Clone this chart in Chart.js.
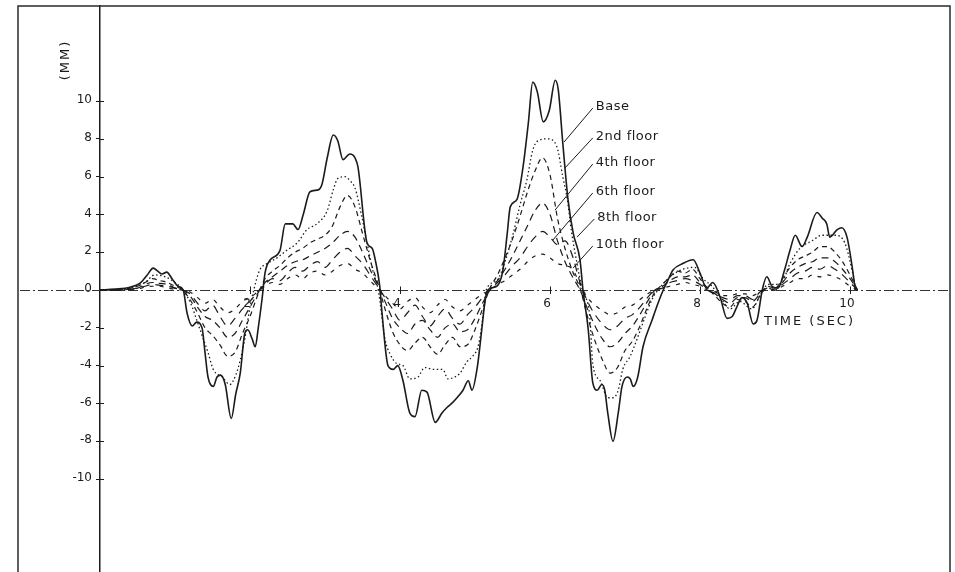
<!DOCTYPE html>
<html>
<head>
<meta charset="utf-8">
<script src="https://cdn.jsdelivr.net/npm/chart.js@4/dist/chart.umd.min.js"></script>
<style>
  html, body { margin: 0; padding: 0; background: #fff; }
  canvas { display: block; }
</style>
</head>
<body>
<canvas id="c" width="955" height="572"></canvas>
<script>
// Axis ticks and titles
const xTicks = [2, 4, 6, 8, 10];
const yTicks = [-10, -8, -6, -4, -2, 0, 2, 4, 6, 8, 10];
const xTitle = 'TIME (SEC)';
const yTitle = '(MM)';

// Base displacement (mm) against time (s)
const baseTime = [0, 0.2, 0.4, 0.53, 0.63, 0.71, 0.77, 0.83, 0.89, 0.96, 1.04, 1.11, 1.16, 1.23, 1.29, 1.36, 1.40, 1.44, 1.51, 1.56, 1.61, 1.67, 1.75, 1.81, 1.87, 1.93, 1.97, 2.03, 2.07, 2.11, 2.16, 2.20, 2.27, 2.40, 2.47, 2.57, 2.64, 2.71, 2.80, 2.91, 2.96, 3.03, 3.11, 3.17, 3.24, 3.33, 3.40, 3.44, 3.56, 3.63, 3.67, 3.73, 3.76, 3.84, 3.91, 3.97, 4.04, 4.13, 4.20, 4.29, 4.36, 4.47, 4.56, 4.63, 4.69, 4.76, 4.84, 4.91, 4.96, 5.03, 5.09, 5.13, 5.17, 5.29, 5.37, 5.43, 5.47, 5.56, 5.64, 5.71, 5.77, 5.83, 5.91, 5.99, 6.07, 6.11, 6.17, 6.24, 6.31, 6.40, 6.44, 6.51, 6.57, 6.63, 6.69, 6.73, 6.77, 6.84, 6.91, 6.96, 7.03, 7.07, 7.11, 7.17, 7.24, 7.36, 7.44, 7.51, 7.57, 7.64, 7.77, 7.91, 8.00, 8.09, 8.17, 8.27, 8.36, 8.43, 8.49, 8.56, 8.63, 8.71, 8.76, 8.83, 8.89, 8.96, 9.04, 9.13, 9.20, 9.27, 9.36, 9.43, 9.56, 9.63, 9.69, 9.73, 9.83, 9.89, 9.96, 10.03, 10.07];
const baseMm = [0, 0.05, 0.15, 0.35, 0.8, 1.16, 1.0, 0.85, 0.95, 0.6, 0.2, 0, -1.2, -1.9, -1.7, -2.0, -3.3, -4.6, -5.1, -4.6, -4.5, -5.0, -6.8, -5.5, -4.4, -2.3, -2.1, -2.6, -3.0, -2.0, -0.5, 0.9, 1.6, 2.1, 3.5, 3.5, 3.2, 4.0, 5.2, 5.3, 5.6, 7.0, 8.2, 7.9, 6.9, 7.2, 7.0, 6.5, 2.5, 2.2, 1.6, 0.2, -1.2, -4.0, -4.2, -4.0, -4.8, -6.5, -6.7, -5.3, -5.4, -7.0, -6.5, -6.2, -6.0, -5.7, -5.3, -4.8, -5.3, -4.1, -2.1, -0.7, 0, 0.2, 1.0, 3.0, 4.4, 4.8, 6.5, 8.8, 11.0, 10.5, 8.9, 9.5, 11.1, 10.6, 7.8, 4.8, 3.0, 1.6, 0, -2.1, -4.9, -5.3, -5.0, -5.3, -6.5, -8.0, -6.5, -5.1, -4.6, -4.7, -5.1, -4.6, -3.0, -1.6, -0.7, 0, 0.5, 1.06, 1.4, 1.6, 0.9, 0.1, 0.4, -0.4, -1.5, -1.4, -0.9, -0.4, -0.7, -1.8, -1.6, 0, 0.7, 0.2, 0.1, 1.1, 2.1, 2.9, 2.3, 2.8, 4.1, 3.8, 3.5, 2.8, 3.2, 3.3, 2.8, 1.2, 0];

// 2nd floor displacement (mm)
const floor2Time = [0, 0.2, 0.4, 0.6, 0.73, 0.87, 1.0, 1.11, 1.23, 1.29, 1.37, 1.44, 1.51, 1.63, 1.73, 1.81, 1.87, 1.93, 2.0, 2.05, 2.13, 2.23, 2.36, 2.49, 2.63, 2.76, 2.89, 3.03, 3.11, 3.17, 3.27, 3.33, 3.4, 3.49, 3.56, 3.64, 3.71, 3.8, 3.87, 3.96, 4.04, 4.13, 4.24, 4.33, 4.44, 4.57, 4.64, 4.73, 4.8, 4.89, 4.97, 5.04, 5.09, 5.15, 5.29, 5.4, 5.51, 5.6, 5.69, 5.77, 5.84, 5.97, 6.09, 6.17, 6.23, 6.29, 6.37, 6.43, 6.53, 6.57, 6.67, 6.77, 6.84, 6.91, 6.97, 7.07, 7.16, 7.27, 7.36, 7.44, 7.6, 7.77, 7.93, 8.04, 8.16, 8.29, 8.4, 8.53, 8.69, 8.8, 8.91, 9.07, 9.2, 9.33, 9.49, 9.63, 9.8, 9.93, 10.03, 10.08];
const floor2Mm = [0, 0.02, 0.1, 0.4, 0.8, 0.7, 0.4, 0, -0.9, -1.6, -2.5, -3.3, -4.2, -4.6, -5.0, -4.5, -3.7, -2.6, -0.9, 0, 1.06, 1.4, 1.7, 2.1, 2.5, 3.2, 3.5, 4.2, 5.3, 5.9, 6.0, 5.8, 5.4, 3.9, 2.5, 1.0, 0, -2.6, -3.4, -3.9, -4.0, -4.7, -4.6, -4.1, -4.2, -4.2, -4.7, -4.6, -4.4, -3.8, -3.5, -3.0, -1.9, 0, 0.5, 1.5, 3.0, 4.5, 5.8, 7.4, 7.9, 8.0, 7.6, 6.0, 4.8, 3.0, 1.2, 0, -1.4, -3.9, -4.8, -5.7, -5.7, -5.3, -4.2, -3.5, -2.6, -1.4, -0.5, 0, 0.7, 1.1, 1.2, 0.6, 0.2, -0.5, -1.0, -0.6, -1.0, -0.3, 0.3, 0.3, 1.4, 2.2, 2.6, 2.9, 2.9, 2.5, 1.0, 0];

// Upper floors share a 0.1 s sampling grid
const floorTime = Array.from({ length: 102 }, (_, i) => i / 10);
const floor4Mm = [0, 0, 0, 0.05, 0.1, 0.2, 0.4, 0.6, 0.5, 0.4, 0.2, 0, -0.5, -1.2, -2.0, -2.4, -2.9, -3.5, -3.3, -2.3, -1.4, -0.3, 0.6, 1.0, 1.3, 1.7, 2.0, 2.2, 2.5, 2.7, 2.9, 3.4, 4.4, 5.0, 4.4, 3.0, 1.6, 0.4, -1.0, -2.2, -2.9, -3.2, -2.8, -2.5, -3.0, -3.4, -2.9, -2.5, -3.0, -2.9, -2.1, -1.0, 0.1, 0.8, 1.7, 2.7, 3.9, 5.2, 6.3, 7.0, 6.1, 3.8, 2.2, 1.0, 0.1, -1.4, -2.7, -3.7, -4.4, -4.1, -3.2, -2.7, -1.9, -0.9, -0.1, 0.3, 0.7, 1.0, 0.9, 1.1, 0.6, 0.1, -0.3, -0.7, -0.9, -0.5, -0.6, -0.9, -0.3, 0.2, 0.1, 0.6, 1.2, 1.6, 1.8, 2.0, 2.3, 2.3, 2.0, 1.5, 0.8, 0];
const floor6Mm = [0, 0, 0, 0, 0.05, 0.1, 0.3, 0.4, 0.35, 0.3, 0.1, 0, -0.3, -0.9, -1.4, -1.6, -2.0, -2.5, -2.3, -1.6, -0.9, -0.2, 0.4, 0.7, 1.0, 1.3, 1.5, 1.6, 1.8, 2.0, 2.2, 2.5, 2.9, 3.1, 2.8, 2.0, 1.1, 0.3, -0.6, -1.5, -2.0, -2.3, -1.8, -1.6, -2.1, -2.5, -2.0, -1.8, -2.2, -2.1, -1.5, -0.7, 0, 0.5, 1.1, 1.8, 2.6, 3.4, 4.2, 4.6, 4.0, 2.6, 1.5, 0.7, 0, -1.0, -1.9, -2.6, -3.0, -2.8, -2.3, -1.9, -1.3, -0.6, 0, 0.2, 0.5, 0.7, 0.7, 0.8, 0.4, 0.1, -0.2, -0.5, -0.7, -0.4, -0.4, -0.6, -0.2, 0.1, 0.1, 0.4, 0.9, 1.2, 1.4, 1.5, 1.7, 1.7, 1.5, 1.1, 0.6, 0];
const floor8Mm = [0, 0, 0, 0, 0.05, 0.1, 0.2, 0.3, 0.25, 0.2, 0.1, 0, -0.2, -0.7, -1.1, -0.8, -1.4, -1.9, -1.5, -1.0, -0.6, -0.1, 0.3, 0.6, 0.5, 0.9, 1.2, 1.0, 1.3, 1.5, 1.2, 1.6, 2.0, 2.2, 1.8, 1.4, 0.8, 0.2, -0.4, -1.0, -1.6, -1.2, -0.8, -1.4, -1.9, -1.4, -1.0, -1.5, -1.8, -1.3, -0.9, -0.4, 0, 0.4, 0.8, 1.3, 1.7, 2.3, 2.8, 3.1, 2.8, 2.4, 2.6, 1.8, 0.4, -0.6, -1.3, -1.8, -2.1, -1.9, -1.5, -1.3, -0.9, -0.4, 0, 0.1, 0.4, 0.5, 0.6, 0.5, 0.3, 0, -0.2, -0.4, -0.5, -0.3, -0.3, -0.5, -0.1, 0.1, 0, 0.3, 0.6, 0.9, 1.0, 1.2, 1.1, 1.3, 1.1, 0.8, 0.4, 0];
const floor10Mm = [0, 0, 0, 0, 0, 0.05, 0.15, 0.2, 0.2, 0.1, 0.05, 0, -0.1, -0.4, -0.7, -0.5, -0.9, -1.2, -1.0, -0.6, -0.4, -0.1, 0.2, 0.4, 0.3, 0.6, 0.8, 0.6, 0.9, 1.0, 0.8, 1.0, 1.3, 1.4, 1.1, 0.9, 0.5, 0.1, -0.3, -0.7, -1.0, -0.6, -0.4, -0.9, -1.2, -0.8, -0.5, -0.9, -1.1, -0.8, -0.5, -0.2, 0, 0.3, 0.5, 0.8, 1.1, 1.5, 1.8, 1.9, 1.7, 1.4, 1.3, 1.1, 0.3, -0.4, -0.8, -1.1, -1.3, -1.2, -0.9, -0.8, -0.5, -0.2, 0, 0.1, 0.2, 0.3, 0.4, 0.3, 0.2, 0, -0.1, -0.3, -0.3, -0.2, -0.2, -0.3, -0.1, 0, 0, 0.2, 0.4, 0.6, 0.6, 0.8, 0.7, 0.8, 0.7, 0.5, 0.2, 0];

// Curve labels: text anchor and leader end, both in (s, mm)
const callouts = [
  { text: 'Base',       at: [6.61, 9.68], to: [6.187, 7.83] },
  { text: '2nd floor',  at: [6.61, 8.10], to: [6.20, 6.46] },
  { text: '4th floor',  at: [6.61, 6.72], to: [6.067, 4.23] },
  { text: '6th floor',  at: [6.61, 5.19], to: [6.04, 2.65] },
  { text: '8th floor',  at: [6.63, 3.81], to: [6.36, 2.80] },
  { text: '10th floor', at: [6.61, 2.38], to: [6.307, 1.16] }
];

const ink = '#1b1b1b';
const frameLeft = 18;
const zeroDash = [10, 3, 2, 3];

const toPoints = (ts, vs) => ts.map((t, i) => ({ x: t, y: vs[i] }));
const series = (label, ts, vs, dash, width) => ({
  label,
  data: toPoints(ts, vs),
  borderColor: ink,
  borderWidth: width,
  borderDash: dash,
  pointRadius: 0,
  fill: false,
  cubicInterpolationMode: 'monotone'
});

const figureText = {
  id: 'figureText',
  beforeDraw(chart) {
    const { ctx, width, height } = chart;
    ctx.save();
    ctx.fillStyle = '#fff';
    ctx.fillRect(0, 0, width, height);
    ctx.restore();
  },
  beforeDatasetsDraw(chart) {
    // dash-dot zero line across the whole frame, under the curves
    const { ctx, chartArea: a, scales: { y } } = chart;
    const y0 = Math.round(y.getPixelForValue(0)) + 0.5;
    ctx.save();
    ctx.lineWidth = 1;
    ctx.strokeStyle = '#333';
    ctx.setLineDash(zeroDash);
    ctx.beginPath();
    ctx.moveTo(frameLeft + 2, y0);
    ctx.lineTo(a.right, y0);
    ctx.stroke();
    ctx.restore();
  },
  afterDraw(chart) {
    const { ctx, chartArea: a, scales: { x, y } } = chart;
    const x0 = x.getPixelForValue(0);
    const y0 = Math.round(y.getPixelForValue(0)) + 0.5;
    ctx.save();

    // outer frame
    ctx.strokeStyle = '#2a2a2a';
    ctx.lineWidth = 1.5;
    ctx.beginPath();
    ctx.moveTo(frameLeft, a.bottom + 2);
    ctx.lineTo(frameLeft, a.top);
    ctx.lineTo(a.right, a.top);
    ctx.lineTo(a.right, a.bottom + 2);
    ctx.stroke();

    // right halves of the tick crosses
    ctx.lineWidth = 1;
    ctx.strokeStyle = ink;
    ctx.beginPath();
    yTicks.forEach(v => {
      const py = Math.round(y.getPixelForValue(v)) + 0.5;
      ctx.moveTo(x0, py);
      ctx.lineTo(x0 + 4, py);
    });
    xTicks.forEach(v => {
      const px = Math.round(x.getPixelForValue(v)) + 0.5;
      ctx.moveTo(px, y0);
      ctx.lineTo(px, y0 - 4);
    });
    ctx.stroke();

    ctx.fillStyle = ink;
    // y title, rotated
    ctx.font = '13px "DejaVu Sans"';
    ctx.letterSpacing = '2px';
    ctx.save();
    ctx.translate(frameLeft + 48, a.top + 54);
    ctx.rotate(-Math.PI / 2);
    ctx.textAlign = 'center';
    ctx.textBaseline = 'middle';
    ctx.fillText(yTitle, 0, 0);
    ctx.restore();

    // x title under the right end of the time axis
    ctx.textAlign = 'right';
    ctx.textBaseline = 'middle';
    ctx.fillText(xTitle, x.getPixelForValue(10) + 5, y0 + 31);

    // curve labels with leader lines
    ctx.letterSpacing = '0.5px';
    ctx.textAlign = 'left';
    ctx.lineWidth = 1;
    ctx.strokeStyle = ink;
    callouts.forEach(c => {
      const tx = x.getPixelForValue(c.at[0]);
      const ty = y.getPixelForValue(c.at[1]);
      ctx.fillText(c.text, tx, ty);
      ctx.beginPath();
      ctx.moveTo(tx - 3, ty + 1);
      ctx.lineTo(x.getPixelForValue(c.to[0]), y.getPixelForValue(c.to[1]));
      ctx.stroke();
    });
    ctx.restore();
  }
};

const noPadding = s => { s.paddingLeft = 0; s.paddingRight = 0; s.paddingTop = 0; s.paddingBottom = 0; };

new Chart(document.getElementById('c'), {
  type: 'line',
  data: {
    datasets: [
      series('10th floor', floorTime, floor10Mm, [4, 6], 1.2),
      series('8th floor', floorTime, floor8Mm, [8, 6], 1.2),
      series('6th floor', floorTime, floor6Mm, [7, 5], 1.2),
      series('4th floor', floorTime, floor4Mm, [5, 4], 1.2),
      series('2nd floor', floor2Time, floor2Mm, [1.5, 2.5], 1.3),
      series('Base', baseTime, baseMm, [], 1.6)
    ]
  },
  options: {
    responsive: false,
    animation: false,
    devicePixelRatio: 1,
    layout: { padding: { left: frameLeft, top: 6, right: 5, bottom: 0 } },
    plugins: { legend: { display: false }, tooltip: { enabled: false } },
    scales: {
      x: {
        type: 'linear',
        position: { y: 0 },
        min: 0,
        max: 11.3333,
        afterBuildTicks: s => { s.ticks = xTicks.map(v => ({ value: v })); },
        afterFit: noPadding,
        grid: { drawOnChartArea: false, drawTicks: true, tickLength: 4, color: ink, lineWidth: 1 },
        border: { display: false },
        ticks: {
          color: ink,
          font: { family: 'DejaVu Sans', size: 12 },
          padding: 3,
          labelOffset: -3,
          maxRotation: 0,
          autoSkip: false,
          callback: v => String(v)
        }
      },
      y: {
        type: 'linear',
        position: 'left',
        min: -14.92,
        max: 15.03,
        afterBuildTicks: s => { s.ticks = yTicks.map(v => ({ value: v })); },
        afterFit: s => { noPadding(s); s.width = 82; },
        grid: { drawOnChartArea: false, drawTicks: true, tickLength: 4, color: ink, lineWidth: 1 },
        border: { display: true, color: ink, width: 1.5 },
        ticks: {
          color: ink,
          font: { family: 'DejaVu Sans', size: 12 },
          padding: 4,
          labelOffset: -1,
          autoSkip: false,
          callback: v => String(v)
        }
      }
    }
  },
  plugins: [figureText]
});
</script>
</body>
</html>
